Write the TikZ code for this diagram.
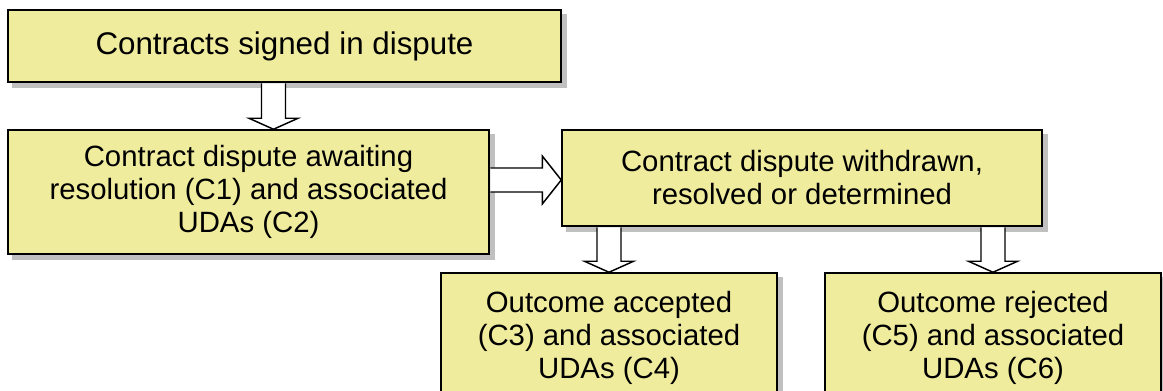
\documentclass[tikz,border=0pt]{standalone}
\usepackage{fontspec}
\setmainfont{Liberation Sans}
\usetikzlibrary{calc}
\definecolor{boxfill}{RGB}{240,236,158}
\definecolor{shadowc}{RGB}{192,192,192}
\pgfdeclarelayer{bg}
\pgfsetlayers{bg,main}
\tikzset{
  flowbox/.style={draw=black, line width=1.1pt, fill=boxfill, inner sep=0pt,
    align=center, font=\fontsize{22}{24.75}\selectfont},
  bigtext/.style={font=\fontsize{23.5}{26}\selectfont},
  blockarrow/.style={draw=black, line width=1.1pt, fill=white, line join=miter},
}
\newcommand\dblock[2]{%
  \draw[blockarrow] ($(#1)+(-12,0.75)$) -- ($(#2)+(-12,-11)$) -- ($(#2)+(-24.5,-11)$)
    -- (#2) -- ($(#2)+(24.5,-11)$) -- ($(#2)+(12,-11)$) -- ($(#1)+(12,0.75)$);}
\newcommand\boxshadow[1]{%
  \fill[shadowc] ($(#1.south west)+(5,5)$) rectangle ($(#1.north east)+(5,5)$);}
\begin{document}
\begin{tikzpicture}[x=0.75pt,y=-0.75pt]
\useasboundingbox (0,0) rectangle (1163,391);
\clip (0,0) rectangle (1163,391);
\node[flowbox, bigtext, minimum width=414.75pt, minimum height=54pt] (b1) at (284.5,46)
  {Contracts signed in dispute};
\node[flowbox, minimum width=360.75pt, minimum height=93pt] (b2) at (248.5,192)
  {Contract dispute awaiting\\resolution (C1) and associated\\UDAs (C2)};
\node[flowbox, minimum width=360pt, minimum height=72pt] (b3) at (802,178)
  {Contract dispute withdrawn,\\resolved or determined};
\node[flowbox, minimum width=252pt, minimum height=97.5pt] (b4) at (609,338)
  {Outcome accepted\\(C3) and associated\\UDAs (C4)};
\node[flowbox, minimum width=252pt, minimum height=97.5pt] (b5) at (993,338)
  {Outcome rejected\\(C5) and associated\\UDAs (C6)};
% helper coordinates
\coordinate (x1) at (273.5,0);
\coordinate (ra) at (0,180);
\coordinate (rs) at (b2.east |- ra);
\coordinate (re) at (b3.west |- ra);
% shadows
\begin{pgfonlayer}{bg}
  \boxshadow{b1}
  \boxshadow{b2}
  \boxshadow{b3}
  \boxshadow{b4}
  \boxshadow{b5}
  \fill[shadowc, shift={(5,5)}] ($(rs)+(0,-12)$) -- ($(re)+(-19,-12)$) -- ($(re)+(-19,-24)$)
    -- (re) -- ($(re)+(-19,24)$) -- ($(re)+(-19,12)$) -- ($(rs)+(0,12)$) -- cycle;
\end{pgfonlayer}
% connectors
\coordinate (d1s) at (b1.south -| x1);
\coordinate (d1e) at (b2.north -| x1);
\dblock{d1s}{d1e}
\draw[blockarrow] ($(rs)+(0.75,-12)$) -- ($(re)+(-19,-12)$) -- ($(re)+(-19,-24)$)
    -- (re) -- ($(re)+(-19,24)$) -- ($(re)+(-19,12)$) -- ($(rs)+(0.75,12)$);
\coordinate (d2s) at (b3.south -| b4.north);
\coordinate (d3s) at (b3.south -| b5.north);
\dblock{d2s}{b4.north}
\dblock{d3s}{b5.north}
\end{tikzpicture}
\end{document}
